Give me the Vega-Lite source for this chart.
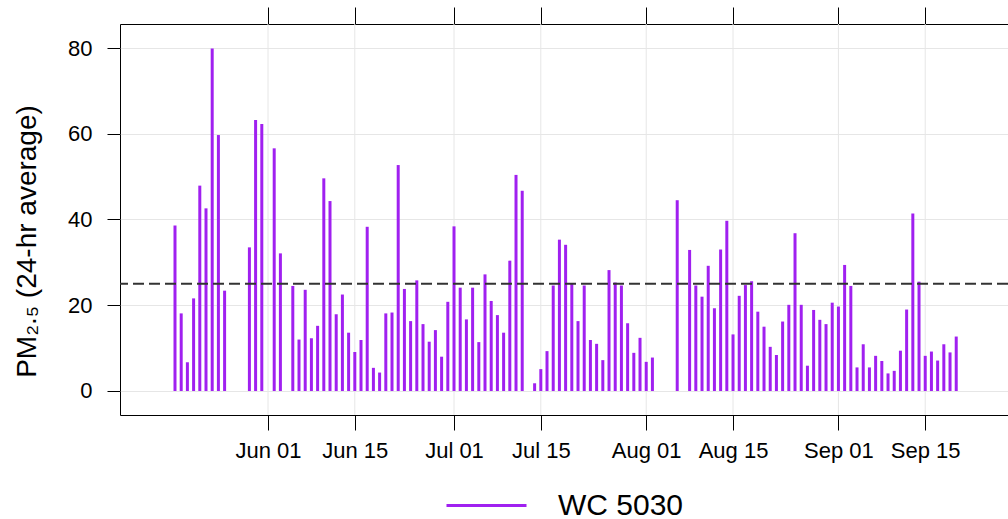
{
  "$schema": "https://vega.github.io/schema/vega-lite/v6.json",
  "width": 888,
  "height": 391,
  "autosize": {"type": "none"},
  "padding": {"left": 120, "top": 24, "right": 0, "bottom": 104},
  "background": "white",
  "config": {
    "font": "Liberation Sans",
    "view": {"stroke": "#000000", "strokeWidth": 1}
  },
  "datasets": {
    "pm": [
      {"date": "2015-05-17", "pm25": 38.6, "station": "WC 5030"},
      {"date": "2015-05-18", "pm25": 18.1, "station": "WC 5030"},
      {"date": "2015-05-19", "pm25": 6.7, "station": "WC 5030"},
      {"date": "2015-05-20", "pm25": 21.6, "station": "WC 5030"},
      {"date": "2015-05-21", "pm25": 47.9, "station": "WC 5030"},
      {"date": "2015-05-22", "pm25": 42.6, "station": "WC 5030"},
      {"date": "2015-05-23", "pm25": 79.9, "station": "WC 5030"},
      {"date": "2015-05-24", "pm25": 59.7, "station": "WC 5030"},
      {"date": "2015-05-25", "pm25": 23.4, "station": "WC 5030"},
      {"date": "2015-05-29", "pm25": 33.5, "station": "WC 5030"},
      {"date": "2015-05-30", "pm25": 63.2, "station": "WC 5030"},
      {"date": "2015-05-31", "pm25": 62.3, "station": "WC 5030"},
      {"date": "2015-06-02", "pm25": 56.6, "station": "WC 5030"},
      {"date": "2015-06-03", "pm25": 32.1, "station": "WC 5030"},
      {"date": "2015-06-05", "pm25": 24.5, "station": "WC 5030"},
      {"date": "2015-06-06", "pm25": 12.0, "station": "WC 5030"},
      {"date": "2015-06-07", "pm25": 23.6, "station": "WC 5030"},
      {"date": "2015-06-08", "pm25": 12.3, "station": "WC 5030"},
      {"date": "2015-06-09", "pm25": 15.2, "station": "WC 5030"},
      {"date": "2015-06-10", "pm25": 49.6, "station": "WC 5030"},
      {"date": "2015-06-11", "pm25": 44.3, "station": "WC 5030"},
      {"date": "2015-06-12", "pm25": 17.9, "station": "WC 5030"},
      {"date": "2015-06-13", "pm25": 22.5, "station": "WC 5030"},
      {"date": "2015-06-14", "pm25": 13.6, "station": "WC 5030"},
      {"date": "2015-06-15", "pm25": 9.1, "station": "WC 5030"},
      {"date": "2015-06-16", "pm25": 11.9, "station": "WC 5030"},
      {"date": "2015-06-17", "pm25": 38.3, "station": "WC 5030"},
      {"date": "2015-06-18", "pm25": 5.4, "station": "WC 5030"},
      {"date": "2015-06-19", "pm25": 4.3, "station": "WC 5030"},
      {"date": "2015-06-20", "pm25": 18.1, "station": "WC 5030"},
      {"date": "2015-06-21", "pm25": 18.3, "station": "WC 5030"},
      {"date": "2015-06-22", "pm25": 52.7, "station": "WC 5030"},
      {"date": "2015-06-23", "pm25": 23.8, "station": "WC 5030"},
      {"date": "2015-06-24", "pm25": 16.3, "station": "WC 5030"},
      {"date": "2015-06-25", "pm25": 25.8, "station": "WC 5030"},
      {"date": "2015-06-26", "pm25": 15.6, "station": "WC 5030"},
      {"date": "2015-06-27", "pm25": 11.5, "station": "WC 5030"},
      {"date": "2015-06-28", "pm25": 14.2, "station": "WC 5030"},
      {"date": "2015-06-29", "pm25": 8.0, "station": "WC 5030"},
      {"date": "2015-06-30", "pm25": 20.8, "station": "WC 5030"},
      {"date": "2015-07-01", "pm25": 38.4, "station": "WC 5030"},
      {"date": "2015-07-02", "pm25": 24.1, "station": "WC 5030"},
      {"date": "2015-07-03", "pm25": 16.7, "station": "WC 5030"},
      {"date": "2015-07-04", "pm25": 24.1, "station": "WC 5030"},
      {"date": "2015-07-05", "pm25": 11.4, "station": "WC 5030"},
      {"date": "2015-07-06", "pm25": 27.2, "station": "WC 5030"},
      {"date": "2015-07-07", "pm25": 21.0, "station": "WC 5030"},
      {"date": "2015-07-08", "pm25": 17.7, "station": "WC 5030"},
      {"date": "2015-07-09", "pm25": 13.6, "station": "WC 5030"},
      {"date": "2015-07-10", "pm25": 30.4, "station": "WC 5030"},
      {"date": "2015-07-11", "pm25": 50.4, "station": "WC 5030"},
      {"date": "2015-07-12", "pm25": 46.7, "station": "WC 5030"},
      {"date": "2015-07-14", "pm25": 1.8, "station": "WC 5030"},
      {"date": "2015-07-15", "pm25": 5.1, "station": "WC 5030"},
      {"date": "2015-07-16", "pm25": 9.3, "station": "WC 5030"},
      {"date": "2015-07-17", "pm25": 24.6, "station": "WC 5030"},
      {"date": "2015-07-18", "pm25": 35.3, "station": "WC 5030"},
      {"date": "2015-07-19", "pm25": 34.1, "station": "WC 5030"},
      {"date": "2015-07-20", "pm25": 25.1, "station": "WC 5030"},
      {"date": "2015-07-21", "pm25": 16.3, "station": "WC 5030"},
      {"date": "2015-07-22", "pm25": 24.6, "station": "WC 5030"},
      {"date": "2015-07-23", "pm25": 11.9, "station": "WC 5030"},
      {"date": "2015-07-24", "pm25": 11.0, "station": "WC 5030"},
      {"date": "2015-07-25", "pm25": 7.2, "station": "WC 5030"},
      {"date": "2015-07-26", "pm25": 28.2, "station": "WC 5030"},
      {"date": "2015-07-27", "pm25": 25.3, "station": "WC 5030"},
      {"date": "2015-07-28", "pm25": 24.6, "station": "WC 5030"},
      {"date": "2015-07-29", "pm25": 15.8, "station": "WC 5030"},
      {"date": "2015-07-30", "pm25": 8.9, "station": "WC 5030"},
      {"date": "2015-07-31", "pm25": 12.4, "station": "WC 5030"},
      {"date": "2015-08-01", "pm25": 6.8, "station": "WC 5030"},
      {"date": "2015-08-02", "pm25": 7.8, "station": "WC 5030"},
      {"date": "2015-08-06", "pm25": 44.5, "station": "WC 5030"},
      {"date": "2015-08-08", "pm25": 32.9, "station": "WC 5030"},
      {"date": "2015-08-09", "pm25": 24.6, "station": "WC 5030"},
      {"date": "2015-08-10", "pm25": 22.0, "station": "WC 5030"},
      {"date": "2015-08-11", "pm25": 29.2, "station": "WC 5030"},
      {"date": "2015-08-12", "pm25": 19.3, "station": "WC 5030"},
      {"date": "2015-08-13", "pm25": 33.0, "station": "WC 5030"},
      {"date": "2015-08-14", "pm25": 39.7, "station": "WC 5030"},
      {"date": "2015-08-15", "pm25": 13.2, "station": "WC 5030"},
      {"date": "2015-08-16", "pm25": 22.2, "station": "WC 5030"},
      {"date": "2015-08-17", "pm25": 24.7, "station": "WC 5030"},
      {"date": "2015-08-18", "pm25": 25.6, "station": "WC 5030"},
      {"date": "2015-08-19", "pm25": 18.5, "station": "WC 5030"},
      {"date": "2015-08-20", "pm25": 15.0, "station": "WC 5030"},
      {"date": "2015-08-21", "pm25": 10.3, "station": "WC 5030"},
      {"date": "2015-08-22", "pm25": 8.4, "station": "WC 5030"},
      {"date": "2015-08-23", "pm25": 16.2, "station": "WC 5030"},
      {"date": "2015-08-24", "pm25": 20.1, "station": "WC 5030"},
      {"date": "2015-08-25", "pm25": 36.8, "station": "WC 5030"},
      {"date": "2015-08-26", "pm25": 20.1, "station": "WC 5030"},
      {"date": "2015-08-27", "pm25": 5.9, "station": "WC 5030"},
      {"date": "2015-08-28", "pm25": 18.9, "station": "WC 5030"},
      {"date": "2015-08-29", "pm25": 16.6, "station": "WC 5030"},
      {"date": "2015-08-30", "pm25": 15.6, "station": "WC 5030"},
      {"date": "2015-08-31", "pm25": 20.6, "station": "WC 5030"},
      {"date": "2015-09-01", "pm25": 19.7, "station": "WC 5030"},
      {"date": "2015-09-02", "pm25": 29.4, "station": "WC 5030"},
      {"date": "2015-09-03", "pm25": 24.5, "station": "WC 5030"},
      {"date": "2015-09-04", "pm25": 5.5, "station": "WC 5030"},
      {"date": "2015-09-05", "pm25": 10.9, "station": "WC 5030"},
      {"date": "2015-09-06", "pm25": 5.5, "station": "WC 5030"},
      {"date": "2015-09-07", "pm25": 8.2, "station": "WC 5030"},
      {"date": "2015-09-08", "pm25": 7.0, "station": "WC 5030"},
      {"date": "2015-09-09", "pm25": 4.1, "station": "WC 5030"},
      {"date": "2015-09-10", "pm25": 4.7, "station": "WC 5030"},
      {"date": "2015-09-11", "pm25": 9.4, "station": "WC 5030"},
      {"date": "2015-09-12", "pm25": 19.0, "station": "WC 5030"},
      {"date": "2015-09-13", "pm25": 41.4, "station": "WC 5030"},
      {"date": "2015-09-14", "pm25": 25.5, "station": "WC 5030"},
      {"date": "2015-09-15", "pm25": 8.2, "station": "WC 5030"},
      {"date": "2015-09-16", "pm25": 9.2, "station": "WC 5030"},
      {"date": "2015-09-17", "pm25": 7.1, "station": "WC 5030"},
      {"date": "2015-09-18", "pm25": 10.9, "station": "WC 5030"},
      {"date": "2015-09-19", "pm25": 9.0, "station": "WC 5030"},
      {"date": "2015-09-20", "pm25": 12.7, "station": "WC 5030"}
    ],
    "ticks": [
      {"date": "2015-06-01"},
      {"date": "2015-06-15"},
      {"date": "2015-07-01"},
      {"date": "2015-07-15"},
      {"date": "2015-08-01"},
      {"date": "2015-08-15"},
      {"date": "2015-09-01"},
      {"date": "2015-09-15"}
    ],
    "standard": [
      {"limit": 25}
    ]
  },
  "resolve": {"axis": {"x": "independent"}},
  "layer": [
    {
      "data": {"name": "ticks", "format": {"parse": {"date": "utc:'%Y-%m-%d'"}}},
      "mark": {"type": "rule", "color": "#e6e6e6", "strokeWidth": 1},
      "encoding": {
        "x": {
          "field": "date",
          "type": "temporal",
          "scale": {
            "type": "utc",
            "domain": [
              {"year": 2015, "month": 5, "date": 8, "hours": 3, "minutes": 7, "utc": true},
              {"year": 2015, "month": 9, "date": 28, "hours": 8, "minutes": 24, "utc": true}
            ]
          },
          "axis": {
            "orient": "top",
            "title": null,
            "labels": false,
            "grid": false,
            "domain": false,
            "ticks": true,
            "tickSize": 17,
            "tickColor": "#000000",
            "tickWidth": 1,
            "values": [
              {"year": 2015, "month": 6, "date": 1, "utc": true},
              {"year": 2015, "month": 6, "date": 15, "utc": true},
              {"year": 2015, "month": 7, "date": 1, "utc": true},
              {"year": 2015, "month": 7, "date": 15, "utc": true},
              {"year": 2015, "month": 8, "date": 1, "utc": true},
              {"year": 2015, "month": 8, "date": 15, "utc": true},
              {"year": 2015, "month": 9, "date": 1, "utc": true},
              {"year": 2015, "month": 9, "date": 15, "utc": true}
            ]
          }
        }
      }
    },
    {
      "data": {"name": "pm", "format": {"parse": {"date": "utc:'%Y-%m-%d'"}}},
      "mark": {"type": "rule", "strokeWidth": 3, "strokeCap": "butt"},
      "encoding": {
        "x": {
          "field": "date",
          "type": "temporal",
          "axis": {
            "orient": "bottom",
            "title": null,
            "grid": false,
            "domain": false,
            "tickSize": 15,
            "tickColor": "#000000",
            "labelFontSize": 22,
            "labelColor": "#000000",
            "labelPadding": 10,
            "format": "%b %d",
            "values": [
              {"year": 2015, "month": 6, "date": 1, "utc": true},
              {"year": 2015, "month": 6, "date": 15, "utc": true},
              {"year": 2015, "month": 7, "date": 1, "utc": true},
              {"year": 2015, "month": 7, "date": 15, "utc": true},
              {"year": 2015, "month": 8, "date": 1, "utc": true},
              {"year": 2015, "month": 8, "date": 15, "utc": true},
              {"year": 2015, "month": 9, "date": 1, "utc": true},
              {"year": 2015, "month": 9, "date": 15, "utc": true}
            ]
          }
        },
        "y": {
          "field": "pm25",
          "type": "quantitative",
          "scale": {"domain": [-5.6, 85.6], "nice": false, "zero": false},
          "axis": {
            "title": "PM₂.₅ (24-hr average)",
            "titleFontSize": 28,
            "titleFontWeight": "normal",
            "titleColor": "#000000",
            "titleX": -93,
            "titleY": 217,
            "titleAngle": -90,
            "titleAlign": "center",
            "titleBaseline": "middle",
            "values": [0, 20, 40, 60, 80],
            "domain": false,
            "tickSize": 13,
            "tickColor": "#000000",
            "labelFontSize": 22,
            "labelColor": "#000000",
            "labelPadding": 15,
            "grid": true,
            "gridColor": "#e6e6e6"
          }
        },
        "y2": {"datum": 0},
        "color": {
          "field": "station",
          "type": "nominal",
          "scale": {"range": ["#A020F0"]},
          "legend": {
            "title": null,
            "orient": "none",
            "legendX": 325,
            "legendY": 440,
            "symbolType": "stroke",
            "symbolSize": 6400,
            "symbolStrokeWidth": 3,
            "labelFontSize": 30,
            "labelColor": "#000000",
            "labelOffset": 30
          }
        }
      }
    },
    {
      "data": {"name": "standard"},
      "mark": {"type": "rule", "color": "#333333", "strokeWidth": 2, "strokeDash": [11, 5]},
      "encoding": {
        "y": {"field": "limit", "type": "quantitative"}
      }
    }
  ]
}
